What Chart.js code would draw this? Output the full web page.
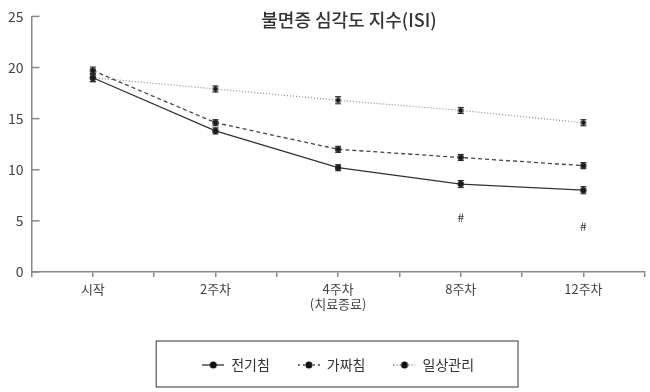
<!DOCTYPE html>
<html>
<head>
<meta charset="utf-8">
<script src="https://cdn.jsdelivr.net/npm/chart.js@4"></script>
<style>
  html, body { margin: 0; padding: 0; background: #fff; }
  #wrap { width: 650px; height: 392px; }
</style>
</head>
<body>
<div id="wrap"><canvas id="isiChart" width="650" height="392"></canvas></div>
<script>
const weeks = ['시작', '2주차', ['4주차', '(치료종료)'], '8주차', '12주차'];
const electro = [19.0, 13.8, 10.2, 8.6, 8.0];
const electroErr = [0.4, 0.3, 0.3, 0.35, 0.35];
const sham = [19.7, 14.6, 12.0, 11.2, 10.4];
const shamErr = [0.35, 0.3, 0.3, 0.3, 0.3];
const usual = [19.0, 17.9, 16.8, 15.8, 14.6];
const usualErr = [0.35, 0.3, 0.35, 0.3, 0.3];
const hashWeek = [3, 4];
const hashValue = [5.3, 4.5];
const yTicks = [0, 5, 10, 15, 20, 25];

const FONT = "'Noto Sans CJK KR', 'Noto Sans', sans-serif";

function points(arr) {
  return arr.map((v, i) => ({ x: i, y: v }));
}

// legend symbol: line + dot
function legendIcon(dash, color) {
  const c = document.createElement('canvas');
  c.width = 22; c.height = 10;
  const ctx = c.getContext('2d');
  ctx.strokeStyle = color;
  ctx.lineWidth = 1.3;
  ctx.setLineDash(dash);
  ctx.beginPath();
  ctx.moveTo(0, 5); ctx.lineTo(22, 5);
  ctx.stroke();
  ctx.fillStyle = '#111';
  ctx.beginPath();
  ctx.arc(11, 5, 3.5, 0, Math.PI * 2);
  ctx.fill();
  return c;
}

const errorBars = {
  id: 'errorBars',
  afterDatasetsDraw(chart) {
    const ctx = chart.ctx;
    const y = chart.scales.y;
    ctx.save();
    ctx.strokeStyle = '#222';
    ctx.lineWidth = 1;
    chart.data.datasets.forEach((ds, i) => {
      const meta = chart.getDatasetMeta(i);
      meta.data.forEach((el, j) => {
        const v = ds.data[j].y, e = ds.err[j];
        const top = y.getPixelForValue(v + e), bot = y.getPixelForValue(v - e);
        ctx.beginPath();
        ctx.moveTo(el.x, top); ctx.lineTo(el.x, bot);
        ctx.moveTo(el.x - 3, top); ctx.lineTo(el.x + 3, top);
        ctx.moveTo(el.x - 3, bot); ctx.lineTo(el.x + 3, bot);
        ctx.stroke();
      });
    });
    // significance marks
    ctx.fillStyle = '#333';
    ctx.font = '12px ' + FONT;
    ctx.textAlign = 'center';
    ctx.textBaseline = 'middle';
    hashWeek.forEach((w, k) => {
      ctx.fillText('#', chart.scales.x.getPixelForValue(w), y.getPixelForValue(hashValue[k]));
    });
    ctx.restore();
  }
};

const decorations = {
  id: 'decorations',
  afterDraw(chart) {
    const ctx = chart.ctx;
    const area = chart.chartArea;
    const y = chart.scales.y;
    ctx.save();
    // inner y ticks
    ctx.strokeStyle = '#888';
    ctx.lineWidth = 1.5;
    yTicks.forEach(t => {
      const py = y.getPixelForValue(t);
      ctx.beginPath();
      ctx.moveTo(area.left, py); ctx.lineTo(area.left + 8, py);
      ctx.stroke();
    });
    // title
    ctx.fillStyle = '#333';
    ctx.font = '500 18px ' + FONT;
    ctx.textAlign = 'center';
    ctx.textBaseline = 'middle';
    ctx.fillText('불면증 심각도 지수(ISI)', 349, 20);
    // legend frame
    const items = chart.legend.legendHitBoxes;
    if (items && items.length) {
      const first = items[0], last = items[items.length - 1];
      const left = first.left - 46, right = last.left + last.width + 44;
      ctx.strokeStyle = '#555';
      ctx.lineWidth = 1.2;
      ctx.strokeRect(left, 341, right - left, 46);
    }
    ctx.restore();
  }
};

new Chart(document.getElementById('isiChart'), {
  type: 'line',
  data: {
    datasets: [
      {
        label: '전기침',
        data: points(electro),
        err: electroErr,
        borderColor: '#333',
        borderWidth: 1.3,
        icon: legendIcon([], '#333')
      },
      {
        label: '가짜침',
        data: points(sham),
        err: shamErr,
        borderColor: '#444',
        borderWidth: 1.3,
        borderDash: [4, 3],
        icon: legendIcon([2, 3], '#444')
      },
      {
        label: '일상관리',
        data: points(usual),
        err: usualErr,
        borderColor: '#888',
        borderWidth: 1.2,
        borderDash: [1, 2],
        icon: legendIcon([1, 2], '#888')
      }
    ]
  },
  options: {
    responsive: false,
    animation: false,
    events: [],
    layout: { padding: { top: 12, right: 5, bottom: 10, left: 0 } },
    elements: {
      point: { pointStyle: 'circle', radius: 2.6, borderWidth: 0, backgroundColor: '#111' },
      line: { tension: 0 }
    },
    scales: {
      x: {
        type: 'linear',
        min: -0.5,
        max: 4.5,
        afterFit(scale) { scale.height = 58; },
        border: { color: '#888', width: 1.5 },
        grid: { drawOnChartArea: false, drawTicks: true, tickLength: 5, color: '#888', lineWidth: 1.5 },
        ticks: {
          stepSize: 0.5,
          autoSkip: false,
          maxRotation: 0,
          padding: 4,
          color: '#444',
          font: { family: FONT, size: 13 },
          callback: v => Number.isInteger(v) && v >= 0 && v < weeks.length ? weeks[v] : ''
        }
      },
      y: {
        min: 0,
        max: 25,
        border: { color: '#888', width: 1.5 },
        grid: { drawOnChartArea: false, drawTicks: false },
        ticks: {
          stepSize: 5,
          padding: 8,
          color: '#444',
          font: { family: FONT, size: 14 }
        }
      }
    },
    plugins: {
      title: { display: false },
      tooltip: { enabled: false },
      legend: {
        position: 'bottom',
        fullSize: false,
        labels: {
          usePointStyle: true,
          pointStyleWidth: 22,
          padding: 28,
          color: '#333',
          font: { family: FONT, size: 14 },
          generateLabels(chart) {
            return chart.data.datasets.map((ds, i) => ({
              text: ds.label,
              pointStyle: ds.icon,
              fontColor: '#333',
              lineWidth: 0,
              strokeStyle: 'transparent',
              fillStyle: 'transparent',
              datasetIndex: i
            }));
          }
        }
      }
    }
  },
  plugins: [errorBars, decorations]
});
</script>
</body>
</html>
